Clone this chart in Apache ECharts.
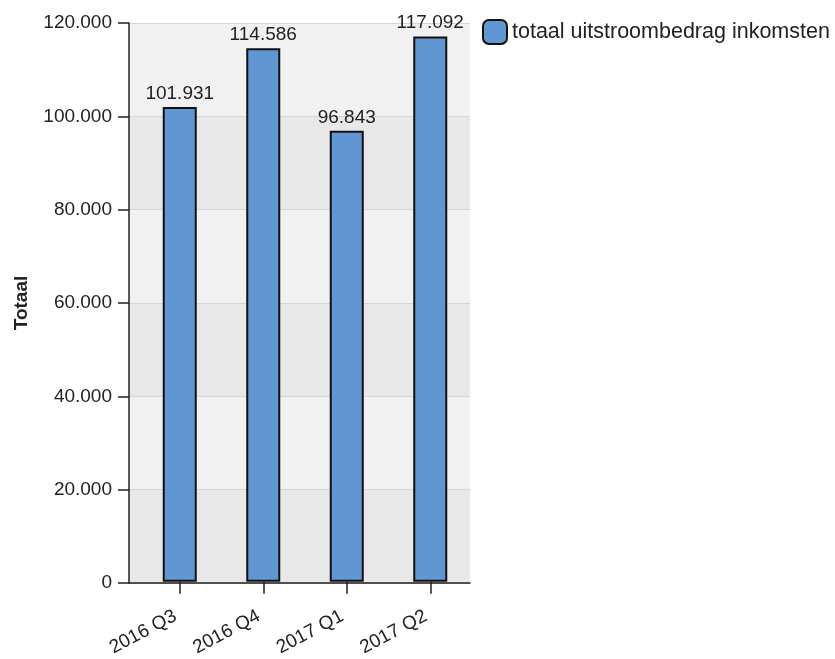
<!DOCTYPE html>
<html>
<head>
<meta charset="utf-8">
<script src="https://cdn.jsdelivr.net/npm/echarts@6/dist/echarts.min.js"></script>
<style>
html,body{margin:0;padding:0;background:#fff;}
#chart{width:835px;height:659px;}
</style>
</head>
<body>
<div id="chart"></div>
<script>
const categories = ['2016 Q3', '2016 Q4', '2017 Q1', '2017 Q2'];
const seriesName = 'totaal uitstroombedrag inkomsten';
const values = [101931, 114586, 96843, 117092];
const yAxisName = 'Totaal';
const yMin = 0, yMax = 120000, yInterval = 20000;

function fmt(v) {
  return String(Math.round(v)).replace(/\B(?=(\d{3})+(?!\d))/g, '.');
}

const FONT = 'Liberation Sans, Arial, sans-serif';
const chart = echarts.init(document.getElementById('chart'), null, {renderer: 'canvas'});
chart.setOption({
  animation: false,
  backgroundColor: '#ffffff',
  textStyle: {fontFamily: FONT},
  legend: {
    left: 477, top: 14,
    itemWidth: 24, itemHeight: 24,
    icon: 'roundRect',
    itemGap: 6,
    textStyle: {fontSize: 21.5, color: '#222', fontFamily: FONT},
    data: [seriesName]
  },
  grid: [
    {left: 129, right: 365, top: 23, bottom: 76, show: false},
    {left: 138, width: 334, top: 23, bottom: 76, show: false}
  ],
  xAxis: [
    {
      gridIndex: 0, type: 'value', min: 0, max: 1,
      axisLine: {show: true, onZero: false, lineStyle: {color: '#222', width: 1.5}},
      axisTick: {show: false}, axisLabel: {show: false}, splitLine: {show: false}
    },
    {
      gridIndex: 1, type: 'category', data: categories,
      axisLine: {show: false},
      axisTick: {show: true, alignWithLabel: true, length: 12, lineStyle: {color: '#222', width: 1.5}},
      axisLabel: {rotate: 28, margin: 31, padding: [0, 5, 0, 0], fontSize: 19, color: '#222', fontFamily: FONT}
    }
  ],
  yAxis: [
    {
      gridIndex: 0, type: 'value', min: yMin, max: yMax, interval: yInterval,
      name: yAxisName, nameLocation: 'middle', nameRotate: 90, nameGap: 98,
      nameTextStyle: {fontSize: 19, fontWeight: 'bold', color: '#222', fontFamily: FONT},
      axisLine: {show: true, lineStyle: {color: '#222', width: 1.5}},
      axisTick: {show: true, length: 11, lineStyle: {color: '#222', width: 1.5}},
      axisLabel: {fontSize: 19, color: '#222', margin: 17, formatter: fmt, fontFamily: FONT},
      splitLine: {show: true, lineStyle: {color: '#d6d6d6', width: 1}},
      splitArea: {show: true, areaStyle: {color: ['#e9e8e9', '#f2f1f2']}}
    },
    {
      gridIndex: 1, type: 'value', min: yMin, max: yMax, interval: yInterval,
      show: false, splitLine: {show: false}
    }
  ],
  series: [{
    name: seriesName,
    type: 'bar',
    xAxisIndex: 1, yAxisIndex: 1,
    data: values,
    barWidth: 34,
    itemStyle: {color: '#6096d2', borderColor: '#111', borderWidth: 2},
    label: {
      show: true, position: 'top', distance: 4,
      fontSize: 19, color: '#222', fontFamily: FONT,
      formatter: p => fmt(p.value)
    }
  }]
});
</script>
</body>
</html>
